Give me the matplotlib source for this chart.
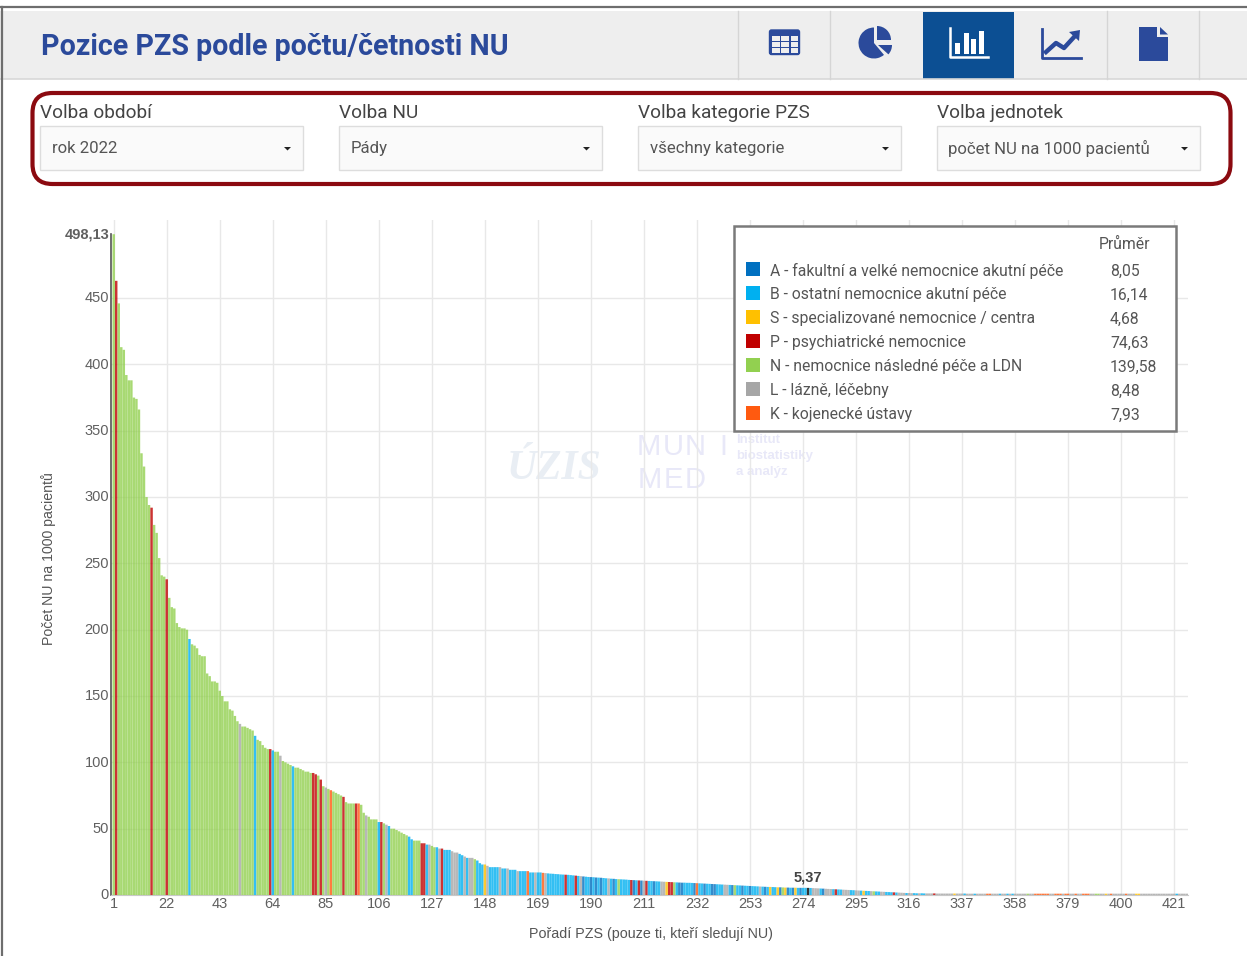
#!/usr/bin/env python3
"""Pozice PZS podle poctu/cetnosti NU - dashboard screenshot redrawn in matplotlib."""

import matplotlib
matplotlib.use('Agg')
import matplotlib.pyplot as plt
from matplotlib.patches import Rectangle, FancyBboxPatch, Polygon, Wedge
from matplotlib.transforms import ScaledTranslation

# Values, one row per 10 ranks
values = [
    498.13, 463, 446, 413, 411, 392, 388, 388, 375, 374,
    366, 333, 323, 300, 294, 292, 279, 273, 254, 241,
    240, 238, 224, 217, 216, 205, 202, 201, 201, 200,
    193, 189, 188, 186, 181, 180, 180, 167, 165, 161,
    161, 160, 154, 150, 146, 146, 140, 139, 135, 131,
    129, 127, 127, 126, 125, 124, 120, 117, 116, 113,
    111, 110, 110, 109, 108, 108, 105, 101, 100, 99,
    98, 97, 96, 96, 95, 94, 93, 93, 92, 92,
    91, 90, 87, 82, 81, 80, 79, 78, 77, 76,
    75, 74, 70, 69, 69, 69, 69, 69, 68, 62,
    60, 59, 57, 57, 57, 55, 55, 54, 53, 52,
    50, 50, 49, 48, 47, 46, 45, 44, 42, 41,
    41, 41, 39, 39, 38, 38, 37, 36, 36, 35,
    35, 34, 34, 34, 33, 32, 32, 31, 30, 29,
    28, 28, 28, 27, 26, 24, 23, 23, 22, 21,
    21, 21, 21, 21, 20, 20, 20, 19, 19, 19,
    18, 18, 18, 18, 18, 17, 17, 17, 17, 17,
    16.7, 16.5, 16.3, 16.1, 16, 15.8, 15.7, 15.5, 15.4, 15.3,
    15.2, 15, 14.8, 14.6, 14.4, 14.2, 14, 13.8, 13.6, 13.5,
    13.4, 13.2, 13.1, 13, 12.8, 12.6, 12.5, 12.3, 12.2, 12,
    11.9, 11.8, 11.7, 11.6, 11.4, 11.3, 11.2, 11.1, 11, 10.9,
    10.8, 10.7, 10.6, 10.5, 10.4, 10.3, 10.2, 10.1, 10, 9.9,
    9.8, 9.7, 9.6, 9.5, 9.4, 9.3, 9.3, 9.2, 9.2, 9.1,
    9, 8.9, 8.8, 8.7, 8.6, 8.5, 8.4, 8.3, 8.2, 8.1,
    8, 7.9, 7.8, 7.7, 7.6, 7.5, 7.4, 7.3, 7.2, 7.1,
    7, 6.9, 6.8, 6.7, 6.6, 6.5, 6.4, 6.3, 6.2, 6.1,
    6.1, 6, 5.9, 5.8, 5.8, 5.7, 5.6, 5.6, 5.5, 5.5,
    5.5, 5.4, 5.4, 5.4, 5.4, 5.37, 5.3, 5.2, 5.1, 5,
    4.9, 4.8, 4.7, 4.6, 4.5, 4.4, 4.3, 4.2, 4.1, 4,
    3.9, 3.8, 3.7, 3.6, 3.5, 3.4, 3.3, 3.2, 3.1, 3,
    2.9, 2.8, 2.7, 2.6, 2.5, 2.4, 2.3, 2.2, 2.1, 2,
    1.9, 1.8, 1.7, 1.6, 1.5, 1.5, 1.4, 1.4, 1.3, 1.3,
    1.3, 1.2, 1.2, 1.2, 1.2, 1.2, 1.1, 1.1, 1.1, 1.1,
    1.1, 1.1, 1.1, 1.1, 1.1, 1.1, 1.1, 1.1, 1, 1,
    1, 1, 1, 1, 1, 1, 1, 1, 1, 1,
    1, 1, 1, 1, 1, 1, 1, 1, 1, 1,
    1, 1, 1, 1, 1, 1, 1, 1, 1, 1,
    1, 1, 1, 1, 1, 1, 1, 1, 1, 1,
    1, 1, 1, 1, 1, 1, 1, 1, 1, 1,
    1, 1, 1, 1, 1, 1, 1, 1, 1, 1,
    1, 1, 1, 1, 1, 1, 1, 1, 1, 1,
    1, 1, 1, 1, 1, 1, 1, 1, 1, 1,
    1, 1, 1, 1, 1, 1, 1,
]

# Category of each bar, same rows; X is the highlighted bar
categories = ''.join([
    'NPNNNNNNNN', 'NNNNNPNNNN', 'NPNNNNNNNN', 'BNNNNNNNNN', 'NNNNNNNNNN',
    'LNNNNNBNNN', 'NNPBNNLNNN', 'NBNNNNNNNP', 'PNPNLNKNNN', 'NPNNNNPKNN',
    'LNNNNBPNLB', 'NNNNNNNBBN', 'NNPPBLNNBL', 'PBBBLLLBBL', 'BLLNBBBSLB',
    'BBBLBBLBBB', 'LBBBKBBLBB', 'KLBBBBBBBP', 'BBBPBLABBA', 'BABABBLBAB',
    'NBBBBPABPA', 'LPBBABBLLS', 'PPNBAABBBB', 'AKBBABBAAB', 'BBLLBANBBA',
    'BBABBBLBAB', 'SBBSANSABA', 'SBABBXBLLL', 'BALLLBPBBL', 'LLBBLLBSBB',
    'LNBBLLBBBP', 'BLLLBLLBBL', 'BBLLLPLLLL', 'LLLSLLLBLL', 'LBLLLLKKLL',
    'LBLLBLBLLL', 'LLNLLKKKKK', 'KLLKKKLKKL', 'LKLLKKKLLN', 'NLLSLKLLLL',
    'LKLLLSSLLL', 'LLLLLLLLLL', 'LBLLLLL',
])

cat_colors = {'A': '#0070C0', 'B': '#00B0F0', 'S': '#FFC000', 'P': '#C00000',
              'N': '#92D050', 'L': '#A6A6A6', 'K': '#FF5A10', 'X': '#000000'}

legend_keys = ['A', 'B', 'S', 'P', 'N', 'L', 'K']
legend_labels = [
    'A - fakultní a velké nemocnice akutní péče',
    'B - ostatní nemocnice akutní péče',
    'S - specializované nemocnice / centra',
    'P - psychiatrické nemocnice',
    'N - nemocnice následné péče a LDN',
    'L - lázně, léčebny',
    'K - kojenecké ústavy',
]
legend_means = ['8,05', '16,14', '4,68', '74,63', '139,58', '8,48', '7,93']

x_ticks = [1, 22, 43, 64, 85, 106, 127, 148, 169, 190, 211, 232, 253, 274, 295,
           316, 337, 358, 379, 400, 421]
y_ticks = [0, 50, 100, 150, 200, 250, 300, 350, 400, 450, 498.13]
y_tick_labels = ['0', '50', '100', '150', '200', '250', '300', '350', '400', '450', '498,13']

filter_titles = ['Volba období', 'Volba NU', 'Volba kategorie PZS', 'Volba jednotek']
filter_values = ['rok 2022', 'Pády', 'všechny kategorie', 'počet NU na 1000 pacientů']

W, H = 1247, 956
BLUE = '#2B4A9B'
TXT = '#555555'
UI_FONT = ['Roboto', 'DejaVu Sans']
CHART_FONT = ['Liberation Sans', 'DejaVu Sans']

fig = plt.figure(figsize=(W / 100, H / 100), dpi=100, facecolor='white')


def px_axes(zorder):
    a = fig.add_axes([0, 0, 1, 1], zorder=zorder)
    a.set_xlim(0, W)
    a.set_ylim(H, 0)
    a.axis('off')
    return a


def rect(a, x0, y0, x1, y1, **kw):
    kw.setdefault('lw', 0)
    a.add_patch(Rectangle((x0, y0), x1 - x0, y1 - y0, **kw))


# Page background: header, tabs, filters
bg = px_axes(0)
rect(bg, 0, 11, W, 79, fc='#EEEEEE')
bg.plot([0, W], [79, 79], color='#D8D8D8', lw=1.2)
bg.plot([0, W], [7, 7], color='#6E6E6E', lw=1.6)
bg.plot([1.5, 1.5], [7, H], color='#6E6E6E', lw=1.6)
bg.text(41, 46.5, 'Pozice PZS podle počtu/četnosti NU', family=UI_FONT, fontsize=20.6,
        fontweight='bold', color=BLUE, va='center', ha='left')

for sx in [738, 830, 1107, 1199]:
    bg.plot([sx, sx], [11, 79], color='#D5D5D5', lw=1)
rect(bg, 923, 12, 1014, 79, fc='#0C4F93')

# table icon
bg.add_patch(FancyBboxPatch((769.5, 30), 30, 24.5, boxstyle='round,pad=0,rounding_size=2', fc=BLUE, ec=BLUE, lw=1))
for i in range(3):
    for j in range(3):
        rect(bg, 772 + i * 9.3, 36 + j * 6, 779.5 + i * 9.3, 40.5 + j * 6, fc='#EEEEEE')
# pie icon (angles are mirrored, the y axis runs downwards)
bg.add_patch(Wedge((874, 43), 15.5, 50, 270, fc=BLUE, lw=0))
bg.add_patch(Wedge((877, 40), 14, 270, 360, fc=BLUE, lw=0))
bg.add_patch(Wedge((878, 45), 14, 0, 42, fc=BLUE, lw=0))
# bar icon
bg.plot([950, 950, 988], [28, 57, 57], color='white', lw=1.8)
for bx, by in [(955, 43), (964, 33), (971, 39), (979, 31)]:
    rect(bg, bx, by, bx + 5, 54, fc='white')
# line icon
bg.plot([1042, 1042, 1080.5], [29, 57.5, 57.5], color=BLUE, lw=2)
bg.plot([1046, 1056, 1064, 1075], [52, 43, 48, 36], color=BLUE, lw=3.2)
bg.add_patch(Polygon([[1069, 32], [1080, 30], [1079, 41]], fc=BLUE, lw=0))
# document icon
bg.add_patch(Polygon([[1139, 27], [1157, 27], [1157, 37], [1168, 37], [1168, 61], [1139, 61]], fc=BLUE, lw=0))
bg.add_patch(Polygon([[1160, 27], [1168, 34.5], [1160, 34.5]], fc=BLUE, lw=0))

# Filters
bg.add_patch(FancyBboxPatch((32.5, 93), 1198, 91, boxstyle='round,pad=0,rounding_size=20',
                            fc='white', ec='#8B0A10', lw=3))
for fx, title, val in zip([40, 339, 638, 937], filter_titles, filter_values):
    bg.text(fx, 112.5, title, family=UI_FONT, fontsize=13.7, color='#444444', va='center', ha='left')
    rect(bg, fx, 126, fx + 262.5, 169.5, fc='#FAFAFA', ec='#DDDDDD', lw=1)
    bg.text(fx + 11.5, 148.5, val, family=UI_FONT, fontsize=12.1, color='#555555', va='center', ha='left')
    bg.add_patch(Polygon([[fx + 244, 147], [fx + 251, 147], [fx + 247.5, 150.5]], fc='#222222', lw=0))

# Watermark
bg.text(554, 469, 'ÚZIS', family=['Liberation Serif'], style='italic', fontweight='bold', fontsize=30,
        color='#E9EEF4', va='center', ha='center')
for lx, ch in zip([649, 673, 695, 723], 'MUNI'):
    bg.text(lx, 447, ch, family=CHART_FONT, fontsize=21, color='#E8E8F8', va='center', ha='center')
for lx, ch in zip([650, 673, 695], 'MED'):
    bg.text(lx, 480, ch, family=CHART_FONT, fontsize=21, color='#E8E8F8', va='center', ha='center')
for ly, t in zip([440, 456, 472], ['Institut', 'biostatistiky', 'a analýz']):
    bg.text(736, ly, t, family=CHART_FONT, fontsize=9.5, fontweight='bold', color='#E8E8F8', va='center', ha='left')

# Chart
PX_PER_RANK = 2.525
PX_PER_UNIT = 1.3265
RANK1_X = 113.7
L, R, T, B = 110.5, 1188, 220, 895
ax = fig.add_axes([L / W, 1 - B / H, (R - L) / W, (B - T) / H], zorder=1)
ax.patch.set_alpha(0)
ax.set_xlim(1 + (L - RANK1_X) / PX_PER_RANK, 1 + (R - RANK1_X) / PX_PER_RANK)
ax.set_ylim(0, (B - T) / PX_PER_UNIT)

ranks = list(range(1, len(values) + 1))
bars = ax.bar(ranks, values, width=0.97, color=[cat_colors[c] for c in categories], alpha=0.8, lw=0, zorder=3)
for b in bars:
    b.set_snap(False)

ax.set_xticks(x_ticks)
ax.set_xticklabels([str(t) for t in x_ticks], family=CHART_FONT, fontsize=10.5, color='#606060')
ax.set_yticks(y_ticks)
ax.set_yticklabels(y_tick_labels, family=CHART_FONT, fontsize=10.5, color='#606060')
ax.get_yticklabels()[-1].set_fontweight('bold')
ax.tick_params(length=0, pad=1)
ax.tick_params(axis='x', pad=1.5)
ax.grid(True, color='#E8E8E8', lw=1, zorder=0)
ax.set_axisbelow(True)
ax.get_ygridlines()[-1].set_visible(False)
up = ScaledTranslation(0, 1.2 / 100, fig.dpi_scale_trans)
for lab in ax.get_yticklabels():
    lab.set_transform(lab.get_transform() + up)
for s in ['top', 'right']:
    ax.spines[s].set_visible(False)
ax.spines['bottom'].set_color('#C8C8C8')
ax.spines['left'].set_color('#555555')
ax.spines['left'].set_linewidth(1.2)
ax.spines['left'].set_bounds(0, values[0])

ax.set_ylabel('Počet NU na 1000 pacientů', family=CHART_FONT, fontsize=10.2, color='#555555')
ax.yaxis.set_label_coords((56 - L) / (R - L), (B - 559) / (B - T))
ax.set_xlabel('Pořadí PZS (pouze ti, kteří sledují NU)', family=CHART_FONT, fontsize=10.3, color='#555555')
ax.xaxis.set_label_coords((651 - L) / (R - L), -(934 - B) / (B - T))
ax.xaxis.label.set_va('center')

hl = categories.index('X')
ax.annotate('5,37', (ranks[hl], values[hl]), xytext=(0, 3), textcoords='offset pixels', family=CHART_FONT,
            fontsize=10.5, fontweight='bold', color='#444444', ha='center', va='bottom')

# Legend box
lg = px_axes(2)
rect(lg, 734, 226, 1176, 431, fc='white', ec='#7A7A7A', lw=1.8)
lg.text(1124, 244, 'Průměr', family=UI_FONT, fontsize=11.3, color=TXT, va='center', ha='center')
for i, (k, label, m) in enumerate(zip(legend_keys, legend_labels, legend_means)):
    y = 270 + i * 24
    rect(lg, 746, y - 8, 760, y + 6, fc=cat_colors[k])
    lg.text(770, y + 1, label, family=UI_FONT, fontsize=11.3, color=TXT, va='center', ha='left')
    lg.text(1110, y + 1, m, family=UI_FONT, fontsize=11.3, color=TXT, va='center', ha='left')

plt.savefig('out.png', dpi=100, facecolor='white')
